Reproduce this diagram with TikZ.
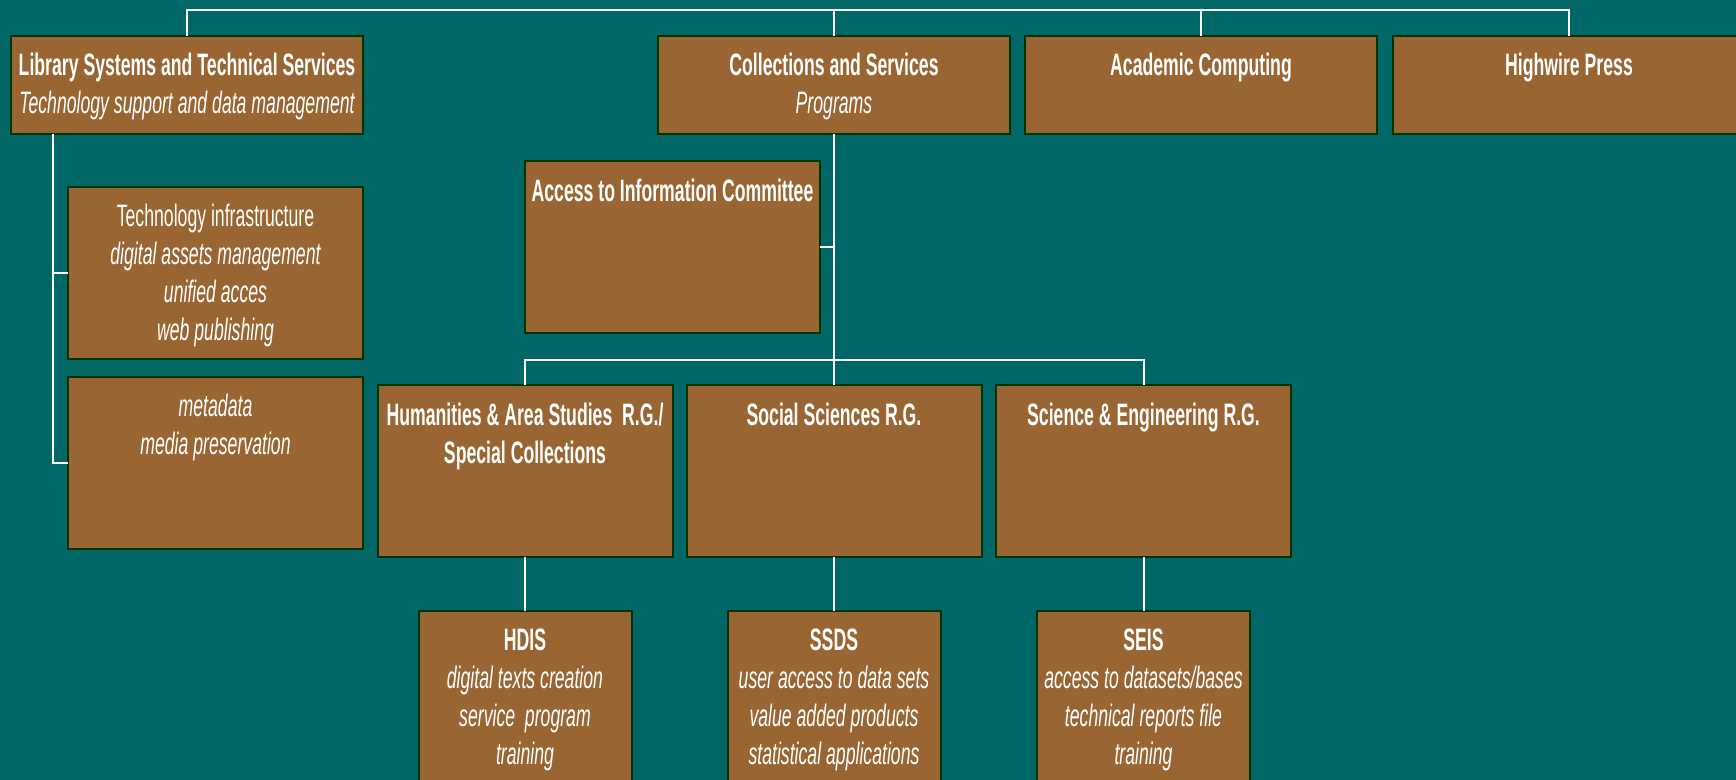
\documentclass[tikz,border=0pt]{standalone}
\usepackage{fontspec}
\setmainfont{Liberation Sans}[FakeStretch=0.57]
\usetikzlibrary{positioning}
\definecolor{deepteal}{HTML}{006666}
\definecolor{barkbrown}{HTML}{996633}
\definecolor{pinegreen}{HTML}{003300}

\tikzset{
  unit/.style={draw=pinegreen, fill=barkbrown, line width=1pt, inner sep=0pt, outer sep=0pt},
  topunit/.style={unit, minimum width=176pt, minimum height=49pt},
  midunit/.style={unit, minimum width=147.5pt, minimum height=86pt},
  lowunit/.style={unit, minimum width=106.5pt, minimum height=86pt},
  caption/.style={text=white, align=center, anchor=north, inner sep=0pt, font=\fontsize{15.5}{19}\selectfont},
  link/.style={draw=white, line width=1pt}
}

\begin{document}
\begin{tikzpicture}[x=0.5pt, y=-0.5pt]
  % Slide background
  \useasboundingbox (0,0) rectangle (1736,780);
  \fill[deepteal] (0,0) rectangle (1736,780);
  \clip (0,0) rectangle (1736,780);

  % Top row
  \node[topunit] (lsts) at (187,85) {};
  \node[topunit] (cs) at (834,85) {};
  \node[topunit] (ac) at (1201,85) {};
  \node[topunit] (hw) at (1569,85) {};

  % Technical services units
  \node[midunit] (infra) at (215.5,273) {};
  \node[midunit] (meta) at (215.5,463) {};

  % Collections and services units
  \node[midunit] (aic) at (672.5,247.5) {};
  \node[midunit] (hum) at (525,471.5) {};
  \node[midunit] (soc) at (834,471.5) {};
  \node[midunit] (sci) at (1143.5,471.5) {};

  % Data services
  \node[lowunit] (hdis) at (525,697) {};
  \node[lowunit] (ssds) at (834,697) {};
  \node[lowunit] (seis) at (1143.5,697) {};

  % Bus lines
  \coordinate (topbus) at (0,10);
  \coordinate (spine) at (53,0);
  \coordinate (rgbus) at (0,360);

  \draw[link] (lsts.north) |- (topbus -| hw.north) -- (hw.north);
  \foreach \u in {cs, ac}
    \draw[link] (\u.north) -- (\u.north |- topbus);
  \draw[link] (lsts.south -| spine) |- (meta.west);
  \draw[link] (infra.west) -- (infra.west -| spine);
  \draw[link] (cs.south) -- (soc.north);
  \draw[link] (aic.east) -- (aic.east -| cs.south);
  \draw[link] (hum.north) |- (rgbus -| sci.north) -- (sci.north);
  \foreach \a/\b in {hum/hdis, soc/ssds, sci/seis}
    \draw[link] (\a.south) -- (\b.north);

  % Texts
  \node[caption, below=8.5pt of lsts.north] (lsts-txt)
    {{\bfseries Library Systems and Technical Services}\\{\itshape Technology support and data management}};
  \node[caption, below=8.5pt of cs.north] (cs-txt)
    {{\bfseries Collections and Services}\\{\itshape Programs}};
  \node[caption, below=8.5pt of ac.north, font=\fontsize{15.5}{19}\selectfont\bfseries] (ac-txt) {Academic Computing};
  \node[caption, below=8.5pt of hw.north, font=\fontsize{15.5}{19}\selectfont\bfseries] (hw-txt) {Highwire Press};

  \node[caption, below=8.5pt of infra.north] (infra-txt)
    {Technology infrastructure\\{\itshape digital assets management}\\{\itshape unified acces}\\{\itshape web publishing}};
  \node[caption, below=8.5pt of meta.north] (meta-txt)
    {{\itshape metadata}\\{\itshape media preservation}};

  \node[caption, below=8.5pt of aic.north, font=\fontsize{15.5}{19}\selectfont\bfseries] (aic-txt) {Access to Information Committee};
  \node[caption, below=8.5pt of hum.north, font=\fontsize{15.5}{19}\selectfont\bfseries] (hum-txt)
    {Humanities \& Area Studies\ \ R.G./\\Special Collections};
  \node[caption, below=8.5pt of soc.north, font=\fontsize{15.5}{19}\selectfont\bfseries] (soc-txt) {Social Sciences R.G.};
  \node[caption, below=8.5pt of sci.north, font=\fontsize{15.5}{19}\selectfont\bfseries] (sci-txt) {Science \& Engineering R.G.};

  \node[caption, below=8.5pt of hdis.north] (hdis-txt)
    {{\bfseries HDIS}\\{\itshape digital texts creation}\\{\itshape service\ \ program}\\{\itshape training}};
  \node[caption, below=8.5pt of ssds.north] (ssds-txt)
    {{\bfseries SSDS}\\{\itshape user access to data sets}\\{\itshape value added products}\\{\itshape statistical applications}};
  \node[caption, below=8.5pt of seis.north] (seis-txt)
    {{\bfseries SEIS}\\{\itshape access to datasets/bases}\\{\itshape technical reports file}\\{\itshape training}};
\end{tikzpicture}
\end{document}
